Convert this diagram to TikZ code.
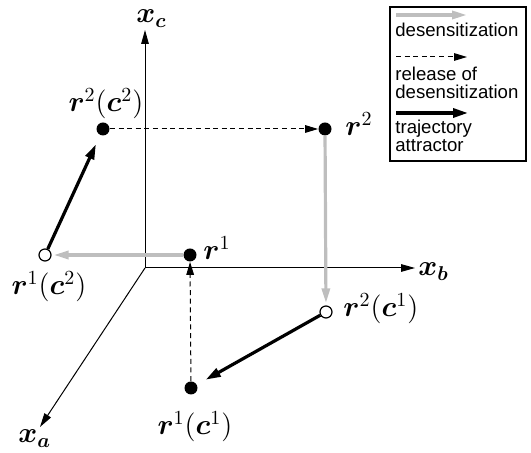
\documentclass[tikz,border=0pt]{standalone}
\usepackage{bm}
\usepackage{fontspec}
\setmainfont{Liberation Serif}
\newfontfamily\legendfont{Liberation Sans}
\usetikzlibrary{arrows.meta,positioning}
\definecolor{desgray}{RGB}{190,190,190}
\tikzset{
  fulldot/.style={circle, fill=black, inner sep=0pt, minimum size=6.5pt},
  opendot/.style={circle, draw=black, fill=white, line width=0.6pt, inner sep=0pt, minimum size=6pt},
  axis/.style={-{Triangle[length=7pt,width=3.8pt]}, line width=0.5pt},
  desen/.style={-{Triangle[length=7.5pt,width=4pt]}, desgray, line width=1.6pt, shorten >=1pt},
  release/.style={-{Triangle[length=6.5pt,width=3.8pt]}, dash pattern=on 2.5pt off 1.8pt, line width=0.5pt},
  attr/.style={-{Triangle[length=7.5pt,width=4.5pt]}, line width=1.6pt, shorten >=5pt},
  ptlabel/.style={font=\fontsize{14}{14}\selectfont, inner sep=0pt},
  legtext/.style={font=\legendfont\fontsize{9.3}{9.3}\selectfont, inner sep=0pt, anchor=base west},
}
\begin{document}
\begin{tikzpicture}[x=0.5pt, y=-0.5pt]
  \useasboundingbox (0,0) rectangle (531,453);
  % axes
  \coordinate (O) at (145,268);
  \coordinate (xctip) at (145,30);
  \coordinate (xbtip) at (415,268);
  \coordinate (xatip) at (40,427);
  \draw[axis] (O) -- (xctip);
  \draw[axis] (O) -- (xbtip);
  \draw[axis] (O) -- (xatip);
  \node[ptlabel, anchor=base west] (xc) at (136,23) {$\bm{x}_{\bm{c}}$};
  \node[ptlabel, anchor=base west] (xb) at (418,276) {$\bm{x}_{\bm{b}}$};
  \node[ptlabel, anchor=base west] (xa) at (18,443) {$\bm{x}_{\bm{a}}$};

  % states
  \node[fulldot] (r1) at (190,255) {};
  \node[fulldot] (r2) at (325,129) {};
  \node[fulldot] (r2c2) at (103,129) {};
  \node[fulldot] (r1c1) at (191,388) {};
  \node[opendot] (r1c2) at (45,255) {};
  \node[opendot] (r2c1) at (326,312) {};

  \node[ptlabel, anchor=base west] (r1lbl) at (203,260) {$\bm{r}^{1}$};
  \node[ptlabel, anchor=base west] (r2lbl) at (345,136) {$\bm{r}^{2}$};
  \node[ptlabel, anchor=base] (r2c2lbl) at (106,112) {$\bm{r}^{2}(\bm{c}^{2})$};
  \node[ptlabel, anchor=base] (r1c2lbl) at (49,295) {$\bm{r}^{1}(\bm{c}^{2})$};
  \node[ptlabel, anchor=base west] (r2c1lbl) at (343,317) {$\bm{r}^{2}(\bm{c}^{1})$};
  \node[ptlabel, anchor=base] (r1c1lbl) at (195,435) {$\bm{r}^{1}(\bm{c}^{1})$};

  % transitions
  \draw[desen] (r1) -- (r1c2);
  \draw[desen] (r2) -- (r2c1);
  \draw[release] (r2c2) -- (r2);
  \draw[release] (r1c1) -- (r1);
  \draw[attr] (r1c2) -- (r2c2);
  \draw[attr] (r2c1) -- (r1c1);

  % legend
  \draw[line width=0.6pt] (390,7) rectangle (526,161);
  \coordinate (leg1s) at (396,15);  \coordinate (leg1e) at (467,15);
  \coordinate (leg2s) at (396,57);  \coordinate (leg2e) at (467,57);
  \coordinate (leg3s) at (396,113); \coordinate (leg3e) at (468,113);
  \draw[desen, shorten >=0pt] (leg1s) -- (leg1e);
  \draw[release] (leg2s) -- (leg2e);
  \draw[attr, shorten >=0pt] (leg3s) -- (leg3e);
  \node[legtext] (leg1) at (395,37) {desensitization};
  \node[legtext] (leg2a) at (395,81) {release of};
  \node[legtext] (leg2b) at (395,99) {desensitization};
  \node[legtext] (leg3a) at (395,134) {trajectory};
  \node[legtext] (leg3b) at (395,152) {attractor};
\end{tikzpicture}
\end{document}
